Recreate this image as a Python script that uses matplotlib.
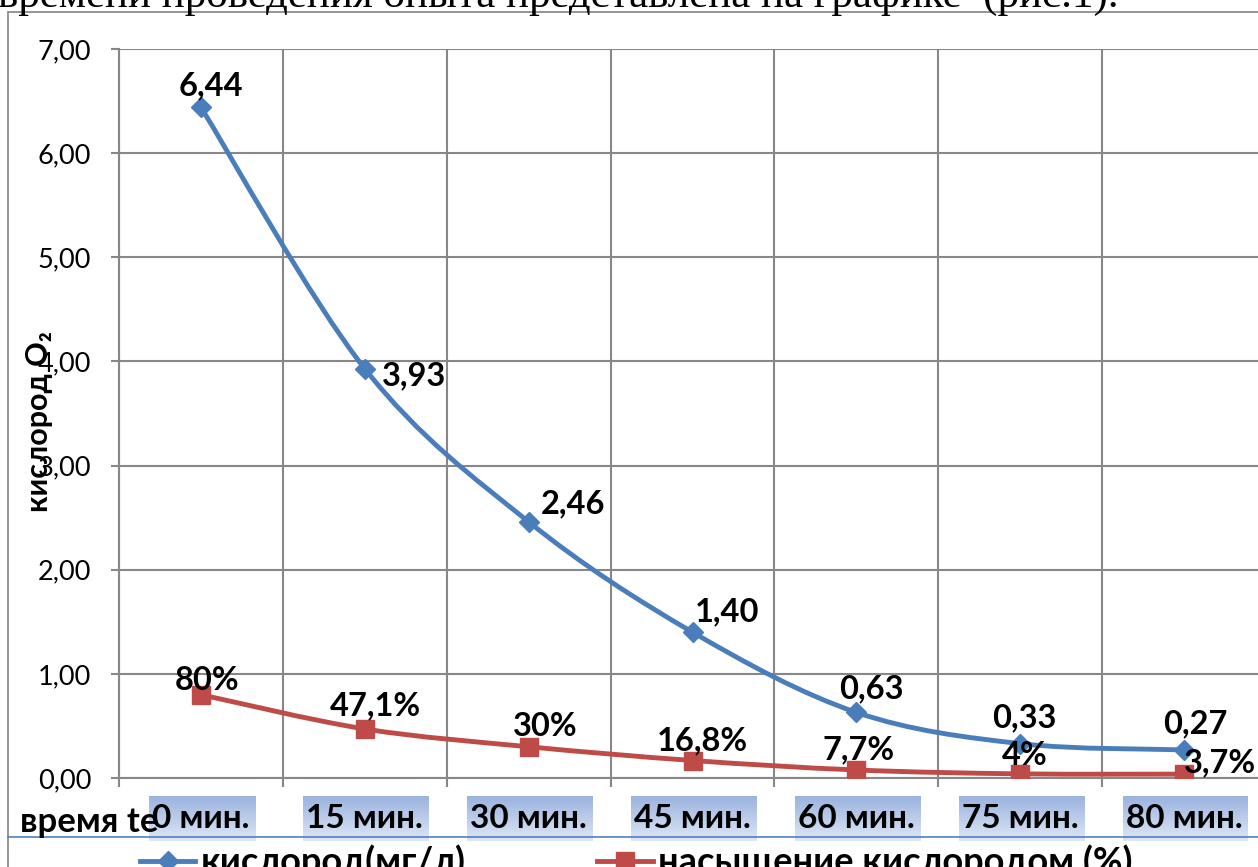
import numpy as np
import matplotlib
matplotlib.use("Agg")
import matplotlib.pyplot as plt
from matplotlib.path import Path
from matplotlib.patches import PathPatch, Rectangle
from matplotlib.lines import Line2D
from matplotlib.ticker import FixedLocator, FixedFormatter, NullFormatter, FuncFormatter

# ---- data ----
categories = ["0 мин.", "15 мин.", "30 мин.", "45 мин.", "60 мин.", "75 мин.", "80 мин."]
oxygen_mg_l = [6.44, 3.93, 2.46, 1.40, 0.63, 0.33, 0.27]
saturation_pct = [80, 47.1, 30, 16.8, 7.7, 4, 3.7]
y_ticks = [0, 1, 2, 3, 4, 5, 6, 7]

series_names = ["кислород(мг/л)", "насыщение кислородом (%)"]
y_title = "кислород O₂"
x_title = "время te"
caption = "времени проведения опыта представлена на графике  (рис.1)."

# ---- figure geometry (pixels) ----
W, H, DPI = 1258, 867, 100
plt.rcParams["font.family"] = ["Lato", "DejaVu Sans"]


def fx(px):
    return px / W


def fy(py):
    return 1 - py / H


BLUE = "#4a7ebb"
RED = "#be4b48"
GRID = "#878787"
LABEL_SIZE = 23.5

fig = plt.figure(figsize=(W / DPI, H / DPI), dpi=DPI)
ax = fig.add_axes([fx(119), fy(778), (1266 - 119) / W, (778 - 49) / H])


def smooth_path(xs, ys):
    """Cubic Bezier path through the points (Catmull-Rom style smoothing)."""
    pts = np.column_stack([xs, ys]).astype(float)
    n = len(pts)
    verts = [pts[0]]
    codes = [Path.MOVETO]
    for i in range(n - 1):
        p0 = pts[max(i - 1, 0)]
        p1 = pts[i]
        p2 = pts[i + 1]
        p3 = pts[min(i + 2, n - 1)]
        verts += [p1 + (p2 - p0) / 6, p2 - (p3 - p1) / 6, p2]
        codes += [Path.CURVE4] * 3
    return Path(verts, codes)


x = np.arange(len(categories))
sat_frac = np.array(saturation_pct) / 100.0

styles = [
    dict(color=BLUE, marker="D", ms=10.5),
    dict(color=RED, marker="s", ms=13.5),
]
series = [np.array(oxygen_mg_l), sat_frac]

for vals, st in zip(series, styles):
    ax.add_patch(PathPatch(smooth_path(x, vals), fill=False, edgecolor=st["color"],
                           lw=3.5, capstyle="round", joinstyle="round", zorder=3))
    ax.plot(x, vals, linestyle="none", marker=st["marker"], ms=st["ms"],
            mfc=st["color"], mec=st["color"], zorder=4)

# data labels (offsets in pixels)
blue_offsets = [(10, 22), (49, -7), (44, 18), (35, 20), (15, 24), (4, 26), (11, 26)]
red_offsets = [(6, 14), (11, 23), (17, 20), (10, 20), (2, 20), (5, 18), (36, 11)]

for xi, v, off in zip(x, oxygen_mg_l, blue_offsets):
    ax.annotate(f"{v:.2f}".replace(".", ","), (xi, v), xytext=off,
                textcoords="offset pixels", ha="center", va="center",
                fontsize=LABEL_SIZE, fontweight="bold", zorder=6, annotation_clip=False)
for xi, p, off in zip(x, saturation_pct, red_offsets):
    ax.annotate(f"{p:g}".replace(".", ",") + "%", (xi, p / 100.0), xytext=off,
                textcoords="offset pixels", ha="center", va="center",
                fontsize=LABEL_SIZE, fontweight="bold", zorder=6, annotation_clip=False)

# axes, ticks and grid
ax.set_xlim(-0.5, len(categories) - 0.5)
ax.set_ylim(y_ticks[0], y_ticks[-1])
ax.yaxis.set_major_locator(FixedLocator(y_ticks))
ax.yaxis.set_major_formatter(FuncFormatter(lambda v, _: f"{v:.2f}".replace(".", ",")))
ax.xaxis.set_major_locator(FixedLocator(np.arange(-0.5, len(categories), 1.0)))
ax.xaxis.set_major_formatter(NullFormatter())
ax.xaxis.set_minor_locator(FixedLocator(x))
ax.xaxis.set_minor_formatter(FixedFormatter(categories))

ax.tick_params(axis="y", which="major", length=6, width=1.5, color=GRID,
               pad=14, labelsize=19.5)
ax.tick_params(axis="x", which="major", length=6.5, width=1.5, color=GRID)
ax.tick_params(axis="x", which="minor", length=0, pad=19, labelsize=24)
for lbl in ax.get_xticklabels(minor=True):
    lbl.set_fontweight("bold")

ax.grid(True, which="major", color=GRID, lw=1.5)
ax.set_axisbelow(True)
for side in ("top", "right"):
    ax.spines[side].set_visible(False)
for side in ("left", "bottom"):
    ax.spines[side].set_color(GRID)
    ax.spines[side].set_linewidth(1.5)

# chart frame
fig.add_artist(Rectangle((fx(8), -0.1), 1.0, fy(12) + 0.1, transform=fig.transFigure,
                         fill=False, ec="#8c8c8c", lw=1.3, zorder=-0.8))

# titles
fig.text(fx(39), fy(422), y_title, rotation=90, ha="center", va="center",
         fontsize=22, fontweight="bold")
fig.text(fx(20), fy(832), x_title, ha="left", va="baseline",
         fontsize=25, fontweight="bold", zorder=5)
fig.text(fx(-2), fy(7), caption, ha="left", va="baseline",
         fontsize=31, family="Liberation Serif")

# legend
handles = [Line2D([], [], color=st["color"], lw=3.5, marker=st["marker"], ms=st["ms"],
                  mfc=st["color"], mec=st["color"]) for st in styles]
fig.legend(handles, series_names, loc="center left", bbox_to_anchor=(fx(140), fy(862)),
           ncol=2, frameon=False, prop={"weight": "bold", "size": 26},
           handlelength=1.53, handletextpad=0.14, columnspacing=3.66,
           borderpad=0, borderaxespad=0)

# highlighted category labels: vertical blue gradient behind each label
fig.canvas.draw()
renderer = fig.canvas.get_renderer()
top_rgb = np.array([0x9b, 0xb3, 0xdf]) / 255.0
bot_rgb = np.array([0xdd, 0xe7, 0xf5]) / 255.0
box_h = 45
grad = np.linspace(0, 1, box_h)[:, None]
for lbl in ax.get_xticklabels(minor=True):
    bb = lbl.get_window_extent(renderer)
    x0 = int(round(bb.x0 - 3))
    x1 = int(round(bb.x1 + 6))
    yc = 0.5 * (bb.y0 + bb.y1)
    y0 = int(round(yc - box_h / 2))
    img = top_rgb[None, None, :] * (1 - grad[..., None]) + bot_rgb[None, None, :] * grad[..., None]
    img = np.repeat(img, x1 - x0, axis=1)
    fig.figimage(img, xo=x0, yo=y0, zorder=-1, origin="upper")

fig.add_artist(Line2D([fx(8), fx(W)], [fy(837), fy(837)], transform=fig.transFigure,
                      color="#4f81bd", lw=1.2, zorder=-0.5))

fig.savefig("out.png", dpi=DPI)
